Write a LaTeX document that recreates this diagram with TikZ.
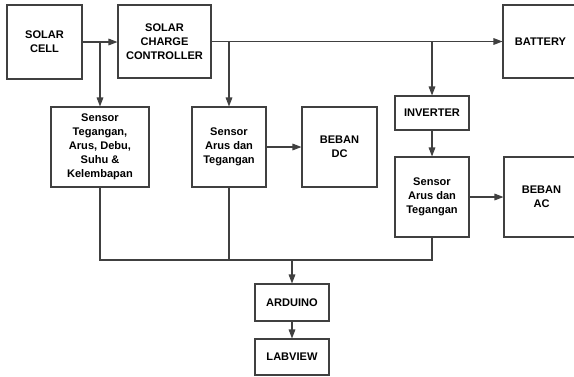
\documentclass[tikz,border=0pt]{standalone}
\usepackage{fontspec}
\setmainfont{Liberation Sans}
\usetikzlibrary{positioning, arrows.meta}

\begin{document}
\begin{tikzpicture}[
    x=0.75pt, y=-0.75pt, >={Triangle[length=6.75pt, width=5pt]},
    block/.style={draw=black!75, line width=0.8pt, align=center, inner sep=0pt,
        minimum width=55.5pt, minimum height=60pt,
        font=\bfseries\fontsize{8.3}{10.4}\selectfont},
    wire/.style={draw=black!75, line width=0.8pt}
]
    \useasboundingbox (0,0) rectangle (574,376);

    \node[block, minimum width=56.25pt, minimum height=55.5pt] (cell) at (44.5,42)    {SOLAR\\CELL};
    \node[block, minimum width=69.75pt, minimum height=54.75pt] (scc) at (164.5,41.5) {SOLAR\\CHARGE\\CONTROLLER};
    \node[block, minimum width=56.25pt, minimum height=54.75pt] (bat) at (540.5,41.5) {BATTERY};
    \node[block, minimum width=73.5pt]                          (s1)  at (100,147)    {Sensor\\Tegangan,\\Arus, Debu,\\Suhu \&\\Kelembapan};
    \node[block]                                                (s2)  at (229,147)    {Sensor\\Arus dan\\Tegangan};
    \node[block, minimum width=56.25pt]                         (dc)  at (339.5,147)  {BEBAN\\DC};
    \node[block, minimum height=25.5pt]                         (inv) at (432,113)    {INVERTER};
    \node[block]                                                (s3)  at (432,197)    {Sensor\\Arus dan\\Tegangan};
    \node[block, minimum width=56.25pt]                         (ac)  at (541.5,197)  {BEBAN\\AC};
    \node[block, minimum height=27.75pt]                        (ard) at (292,302.5)  {ARDUINO};
    \node[block, minimum height=27pt]                           (lab) at (292,357)    {LABVIEW};
    \coordinate (bus) at (292,260);

    \draw[wire, ->] (cell.east) -- (cell.east -| scc.west);
    \draw[wire, ->] (cell.east -| s1.north) -- (s1.north);
    \draw[wire, ->] (scc.east) -- (bat.west);
    \draw[wire, ->] (scc.east -| s2.north) -- (s2.north);
    \draw[wire, ->] (scc.east -| inv.north) -- (inv.north);
    \draw[wire, ->] (s2) -- (dc);
    \draw[wire, ->] (inv) -- (s3);
    \draw[wire, ->] (s3) -- (ac);
    \draw[wire] (s1.south) |- (bus -| s3.south) -- (s3.south);
    \draw[wire] (s2.south) -- (s2.south |- bus);
    \draw[wire, ->] (bus) -- (ard);
    \draw[wire, ->] (ard) -- (lab);
\end{tikzpicture}
\end{document}
